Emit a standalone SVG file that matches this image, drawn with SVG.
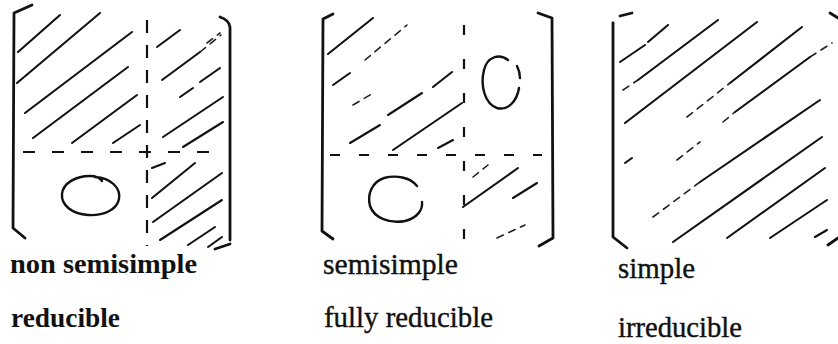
<svg xmlns="http://www.w3.org/2000/svg" width="838" height="344" viewBox="0 0 838 344">
<style>
.br{fill:none;stroke:#111;stroke-width:2.8;stroke-linecap:round;stroke-linejoin:round}
.h{fill:none;stroke:#111;stroke-width:2.1;stroke-linecap:round}
.f{fill:none;stroke:#222;stroke-width:1.6;stroke-linecap:round;stroke-dasharray:7 6}
.d{fill:none;stroke:#111;stroke-width:2.2;stroke-linecap:butt}
.z{fill:none;stroke:#111;stroke-width:2.4;stroke-linecap:round}
.tb{font-family:"Liberation Serif",serif;font-weight:bold;font-size:28px;fill:#111}
.tr{font-family:"Liberation Serif",serif;font-size:30px;fill:#111;stroke:#111;stroke-width:0.4}
</style>
<rect width="838" height="344" fill="#fff"/>

<g id="matrix-nonsemisimple">
  <path class="br" d="M32,5 L14,13 L13,228 L25,238"/>
  <path class="br" d="M220,17 Q229,20 230,27 L230,240 M230,244 L215,249"/>
  <line class="d" x1="147" y1="20" x2="147" y2="246" stroke-dasharray="13 12"/>
  <line class="d" x1="23" y1="152" x2="224" y2="152" stroke-dasharray="12 17"/>
  <path class="h" d="M18,52 L60,15 M17,83 L100,13 M25,113 L132,32 M33,138 L128,67 M72,143 L137,95 M113,143 L140,125"/>
  <path class="h" d="M157,47 L180,30 M162,80 L200,52 M180,97 L193,88 M200,82 L220,68 M163,137 L223,97 M183,147 L223,122"/>
  <path class="f" d="M200,52 L221,35 M207,43 L220,33"/>
  <path class="h" d="M152,168 L165,163 M152,198 L195,163 M153,222 L222,173 M160,240 L222,200 M188,245 L215,227 M208,247 L222,237"/>
  <path class="z" d="M95,177 C111,178 121,188 119,199 C117,210 103,216 88,215 C72,214 61,205 62,194 C63,183 76,176 90,176 C96,176 100,178 102,181"/>
</g>

<g id="matrix-semisimple">
  <path class="br" d="M333,14 L323,19 L322,231 L333,239"/>
  <path class="br" d="M538,13 L552,18 L553,238 L539,246"/>
  <line class="d" x1="464" y1="25" x2="464" y2="248" stroke-dasharray="10 24"/>
  <line class="d" x1="330" y1="155" x2="542" y2="155" stroke-dasharray="10 19"/>
  <path class="h" d="M328,54 L373,18 M333,85 L350,73 M433,87 L452,72 M350,143 L380,125 M393,150 L462,103 M438,148 L453,140 M388,115 L422,93"/>
  <path class="f" d="M365,60 L407,25 M353,105 L375,92"/>
  <path class="h" d="M463,207 L518,168 M513,198 L537,183"/>
  <path class="f" d="M473,177 L488,165 M497,238 L525,225"/>
  <path class="z" d="M508,60 C499,53 487,57 484,70 C480,86 485,104 497,108 C508,111 517,101 519,88 M517,66 C519,70 520,74 520,78"/>
  <path class="z" d="M417,186 C410,177 396,175 384,178 C372,182 367,194 370,206 C374,218 390,224 405,221 C417,218 423,210 422,202"/>
</g>

<g id="matrix-simple">
  <path class="br" d="M620,16 L632,13 M613,23 L613,237 L627,248"/>
  <path class="br" d="M830,13 L838,18 M828,245 L838,238"/>
  <path class="h" d="M620,62 L645,45 M648,42 L668,25 M638,80 L718,20 M625,123 L757,22 M730,83 L802,27 M735,112 L810,57 M700,182 L820,100 M673,242 L822,137 M727,238 L825,168 M770,238 L827,200 M815,237 L827,230 M625,163 L632,158"/>
  <path class="f" d="M623,90 L638,80 M687,117 L730,83 M723,122 L735,112 M810,57 L832,43 M653,217 L700,182 M677,160 L700,142"/>
</g>

<g id="labels">
  <text class="tb" x="10" y="273" textLength="187" lengthAdjust="spacingAndGlyphs">non semisimple</text>
  <text class="tb" x="11" y="327" textLength="109" lengthAdjust="spacingAndGlyphs">reducible</text>
  <text class="tr" x="323" y="274" textLength="135" lengthAdjust="spacingAndGlyphs">semisimple</text>
  <text class="tr" x="324" y="327" textLength="169" lengthAdjust="spacingAndGlyphs">fully reducible</text>
  <text class="tr" x="618" y="278" textLength="77" lengthAdjust="spacingAndGlyphs">simple</text>
  <text class="tr" x="618" y="337" textLength="124" lengthAdjust="spacingAndGlyphs">irreducible</text>
</g>
</svg>
